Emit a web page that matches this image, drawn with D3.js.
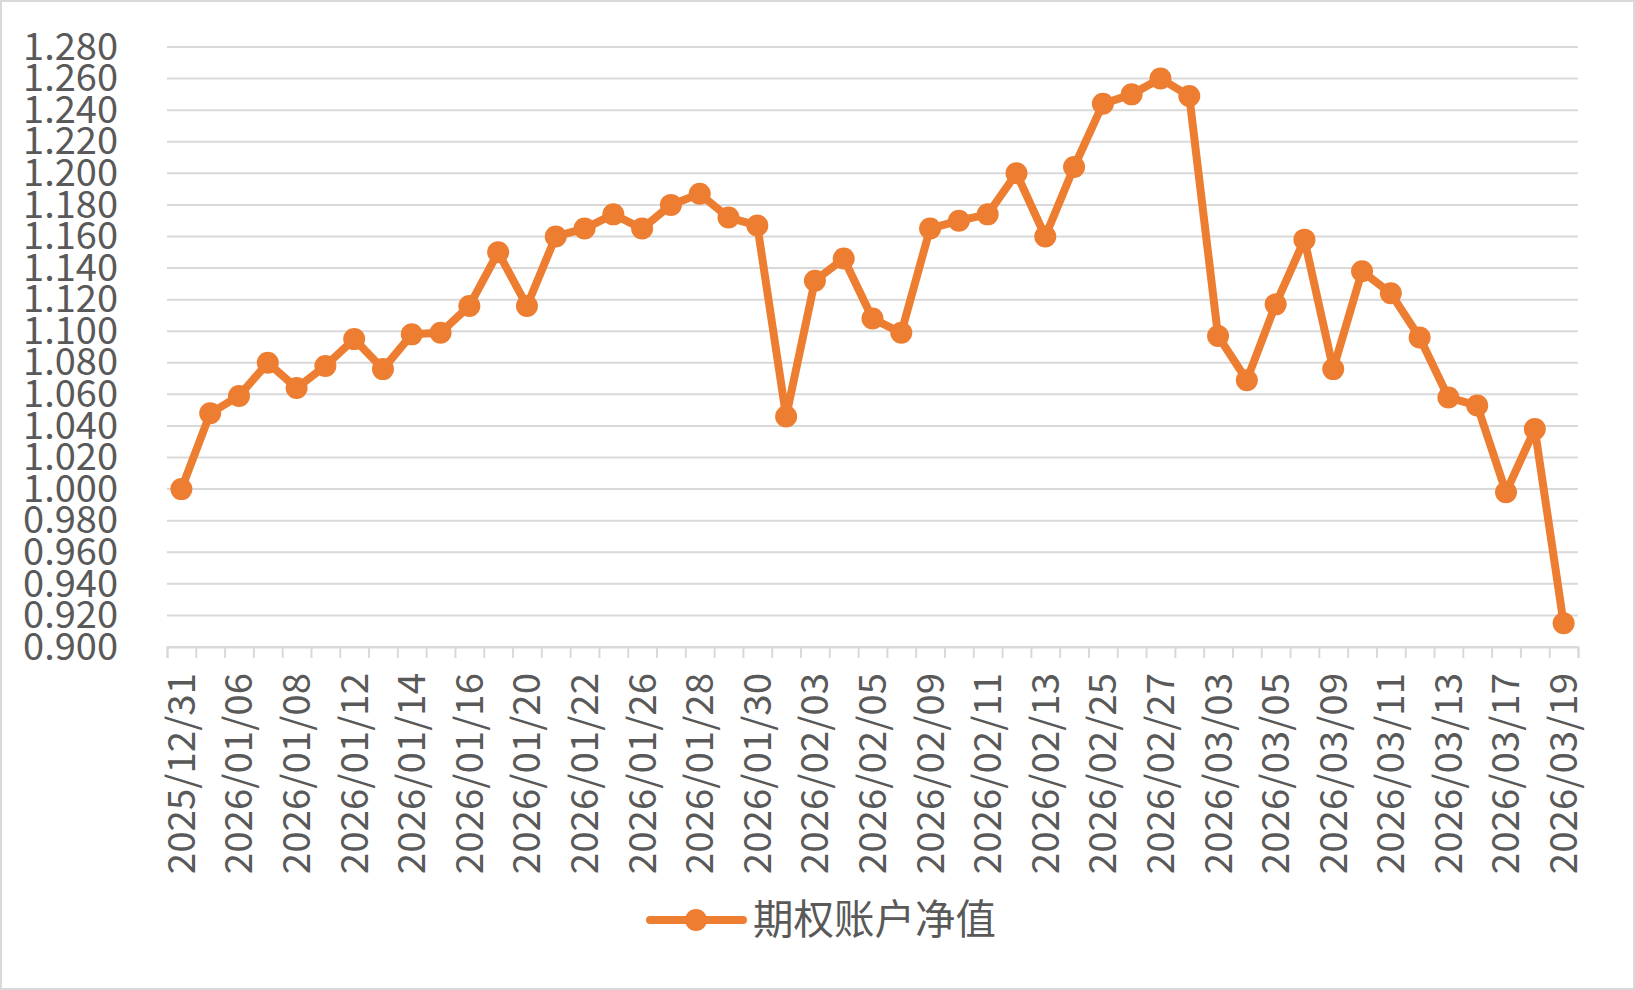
<!DOCTYPE html>
<html>
<head>
<meta charset="utf-8">
<script src="https://cdn.jsdelivr.net/npm/d3@7/dist/d3.min.js"></script>
<style>
  body { margin: 0; background: #fff; }
  text { font-family: "Noto Sans CJK SC", "Noto Sans", sans-serif; fill: #595959; }
</style>
</head>
<body>
<svg id="chart"></svg>
<script>
const dates = [
  "2025/12/31", "2026/01/05", "2026/01/06", "2026/01/07", "2026/01/08", "2026/01/09",
  "2026/01/12", "2026/01/13", "2026/01/14", "2026/01/15", "2026/01/16", "2026/01/19",
  "2026/01/20", "2026/01/21", "2026/01/22", "2026/01/23", "2026/01/26", "2026/01/27",
  "2026/01/28", "2026/01/29", "2026/01/30", "2026/02/02", "2026/02/03", "2026/02/04",
  "2026/02/05", "2026/02/06", "2026/02/09", "2026/02/10", "2026/02/11", "2026/02/12",
  "2026/02/13", "2026/02/24", "2026/02/25", "2026/02/26", "2026/02/27", "2026/03/02",
  "2026/03/03", "2026/03/04", "2026/03/05", "2026/03/06", "2026/03/09", "2026/03/10",
  "2026/03/11", "2026/03/12", "2026/03/13", "2026/03/16", "2026/03/17", "2026/03/18",
  "2026/03/19"
];
const navValues = [
  1.000, 1.048, 1.059, 1.080, 1.064, 1.078, 1.095, 1.076, 1.098, 1.099,
  1.116, 1.150, 1.116, 1.160, 1.165, 1.174, 1.165, 1.180, 1.187, 1.172,
  1.167, 1.046, 1.132, 1.146, 1.108, 1.099, 1.165, 1.170, 1.174, 1.200,
  1.160, 1.204, 1.244, 1.250, 1.260, 1.249, 1.097, 1.069, 1.117, 1.158,
  1.076, 1.138, 1.124, 1.096, 1.058, 1.053, 0.998, 1.038, 0.915
];
const yTicks = [0.90, 0.92, 0.94, 0.96, 0.98, 1.00, 1.02, 1.04, 1.06, 1.08,
  1.10, 1.12, 1.14, 1.16, 1.18, 1.20, 1.22, 1.24, 1.26, 1.28];
// only every other date gets a label, like the original
const xLabels = dates.filter((d, i) => i % 2 === 0);
const seriesName = "期权账户净值";

const W = 1635, H = 990;
const orange = "#ED7D31";
const grid = "#D9D9D9";

const svg = d3.select("#chart")
  .attr("width", W)
  .attr("height", H);

svg.append("rect")
  .attr("x", 1).attr("y", 1)
  .attr("width", W - 2).attr("height", H - 2)
  .attr("fill", "#fff")
  .attr("stroke", grid)
  .attr("stroke-width", 2);

const plotL = 167, plotR = 1578, plotT = 47, plotB = 647;

const x = d3.scaleBand()
  .domain(dates)
  .range([plotL, plotR]);

const y = d3.scaleLinear()
  .domain([0.9, 1.28])
  .range([plotB, plotT]);

// gridlines
svg.append("g")
  .selectAll("line")
  .data(yTicks)
  .enter()
  .append("line")
  .attr("x1", plotL).attr("x2", plotR)
  .attr("y1", d => y(d)).attr("y2", d => y(d))
  .attr("stroke", grid)
  .attr("stroke-width", 2);

// y axis labels
const yAxis = d3.axisLeft(y)
  .tickValues(yTicks)
  .tickSize(0)
  .tickPadding(0)
  .tickFormat(d3.format(".3f"));

const gy = svg.append("g")
  .attr("transform", `translate(${plotL - 49},0)`)
  .call(yAxis);
gy.select(".domain").remove();
gy.selectAll("text")
  .style("font-size", "38px")
  .attr("fill", "#595959");

// x axis: tick marks at category edges
const edges = d3.scaleLinear().domain([0, dates.length]).range([plotL, plotR]);
const gTicks = svg.append("g")
  .attr("transform", `translate(0,${plotB})`)
  .call(d3.axisBottom(edges).tickValues(d3.range(dates.length + 1)).tickSize(11).tickFormat(""));
gTicks.select(".domain").attr("stroke", grid).attr("stroke-width", 2);
gTicks.selectAll(".tick line").attr("stroke", grid).attr("stroke-width", 2);

// x axis labels, rotated
const gx = svg.append("g")
  .attr("transform", `translate(0,${plotB})`)
  .call(d3.axisBottom(x).tickValues(xLabels).tickSize(0));
gx.select(".domain").remove();
gx.selectAll("text")
  .style("font-size", "38.5px")
  .attr("fill", "#595959")
  .attr("transform", "rotate(-90)")
  .attr("text-anchor", "end")
  .attr("x", -26)
  .attr("y", 0)
  .attr("dy", "0.35em");

// the line
const line = d3.line()
  .x((d, i) => x(dates[i]) + x.bandwidth() / 2)
  .y(d => y(d));

svg.append("path")
  .datum(navValues)
  .attr("fill", "none")
  .attr("stroke", orange)
  .attr("stroke-width", 8)
  .attr("stroke-linejoin", "round")
  .attr("d", line);

svg.selectAll(".pt")
  .data(navValues)
  .enter()
  .append("circle")
  .attr("class", "pt")
  .attr("cx", (d, i) => x(dates[i]) + x.bandwidth() / 2)
  .attr("cy", d => y(d))
  .attr("r", 11)
  .attr("fill", orange);

// legend
const lg = svg.append("g").attr("transform", "translate(650,920)");
lg.append("line")
  .attr("x1", 0).attr("x2", 93)
  .attr("y1", 0).attr("y2", 0)
  .attr("stroke", orange)
  .attr("stroke-width", 8)
  .attr("stroke-linecap", "round");
lg.append("circle")
  .attr("cx", 46).attr("cy", 0)
  .attr("r", 11)
  .attr("fill", orange);
lg.append("text")
  .attr("x", 103).attr("y", 0)
  .attr("dy", "0.35em")
  .style("font-size", "40.5px")
  .text(seriesName);
</script>
</body>
</html>
